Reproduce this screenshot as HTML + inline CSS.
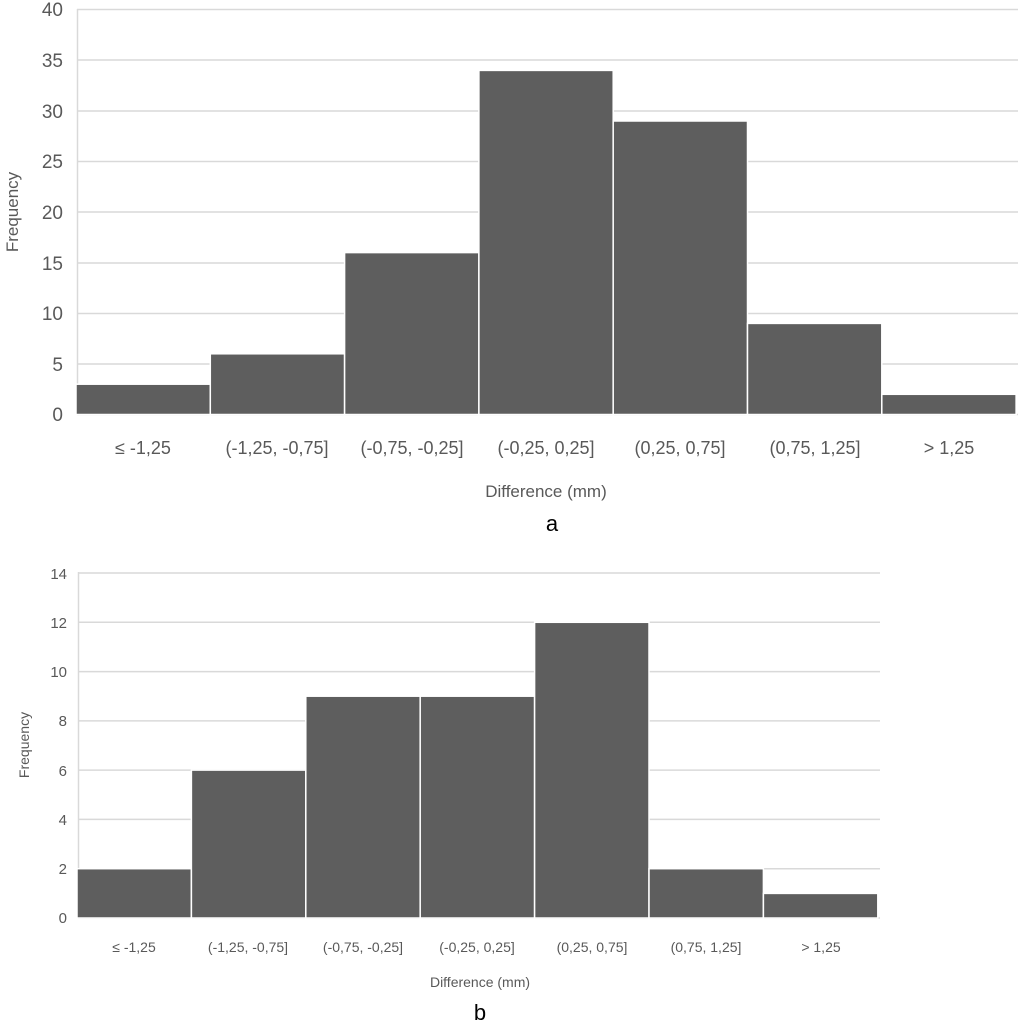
<!DOCTYPE html>
<html><head><meta charset="utf-8"><style>html,body{margin:0;padding:0;background:#fff}svg{display:block}text{font-family:"Liberation Sans",sans-serif;fill:#595959}</style></head>
<body>
<svg width="1024" height="1024" viewBox="0 0 1024 1024">
<g stroke="#d9d9d9" stroke-width="1.5">
<line x1="77" x2="1018" y1="9.5" y2="9.5"/><line x1="77" x2="1018" y1="60" y2="60"/><line x1="77" x2="1018" y1="111" y2="111"/><line x1="77" x2="1018" y1="161.5" y2="161.5"/><line x1="77" x2="1018" y1="212" y2="212"/><line x1="77" x2="1018" y1="263" y2="263"/><line x1="77" x2="1018" y1="313.5" y2="313.5"/><line x1="77" x2="1018" y1="364" y2="364"/><line x1="77" x2="1018" y1="414.5" y2="414.5"/><line x1="77.5" x2="77.5" y1="9" y2="415"/>
</g>
<g fill="#5e5e5e" stroke="#fff" stroke-width="1.5">
<rect x="76" y="384.2" width="134.3" height="30.3"/>
<rect x="210.3" y="353.8" width="134.3" height="60.7"/>
<rect x="344.6" y="252.6" width="134.3" height="161.9"/>
<rect x="478.9" y="70.4" width="134.3" height="344.1"/>
<rect x="613.2" y="121" width="134.3" height="293.5"/>
<rect x="747.5" y="323.4" width="134.3" height="91.1"/>
<rect x="881.8" y="394.3" width="134.3" height="20.2"/>
</g>
<g font-size="19" text-anchor="end">
<text x="63" y="16">40</text><text x="63" y="67">35</text><text x="63" y="118">30</text><text x="63" y="168">25</text><text x="63" y="219">20</text><text x="63" y="270">15</text><text x="63" y="320">10</text><text x="63" y="371">5</text><text x="63" y="421">0</text>
</g>
<text font-size="17" transform="translate(18,212) rotate(-90)" text-anchor="middle">Frequency</text>
<g font-size="18" text-anchor="middle">
<text x="143" y="454">≤ -1,25</text><text x="277" y="454">(-1,25, -0,75]</text><text x="412" y="454">(-0,75, -0,25]</text><text x="546" y="454">(-0,25, 0,25]</text><text x="680" y="454">(0,25, 0,75]</text><text x="815" y="454">(0,75, 1,25]</text><text x="949" y="454">&gt; 1,25</text>
</g>
<text x="546" y="497" font-size="17" text-anchor="middle">Difference (mm)</text>
<text x="552" y="531" font-size="22" text-anchor="middle" style="fill:#000">a</text>

<g stroke="#d9d9d9" stroke-width="1.5">
<line x1="78" x2="880" y1="573" y2="573"/><line x1="78" x2="880" y1="622.3" y2="622.3"/><line x1="78" x2="880" y1="671.6" y2="671.6"/><line x1="78" x2="880" y1="720.9" y2="720.9"/><line x1="78" x2="880" y1="770.1" y2="770.1"/><line x1="78" x2="880" y1="819.4" y2="819.4"/><line x1="78" x2="880" y1="868.7" y2="868.7"/><line x1="78" x2="880" y1="918" y2="918"/><line x1="78.5" x2="78.5" y1="572" y2="918"/>
</g>
<g fill="#5e5e5e" stroke="#fff" stroke-width="1.5">
<rect x="77" y="868.7" width="114.4" height="49.3"/>
<rect x="191.4" y="770.1" width="114.4" height="147.9"/>
<rect x="305.8" y="696.2" width="114.4" height="221.8"/>
<rect x="420.2" y="696.2" width="114.4" height="221.8"/>
<rect x="534.6" y="622.3" width="114.4" height="295.7"/>
<rect x="649" y="868.7" width="114.4" height="49.3"/>
<rect x="763.4" y="893.4" width="114.4" height="24.6"/>
</g>
<g font-size="15" text-anchor="end">
<text x="67" y="579">14</text><text x="67" y="628">12</text><text x="67" y="677">10</text><text x="67" y="726">8</text><text x="67" y="776">6</text><text x="67" y="825">4</text><text x="67" y="874">2</text><text x="67" y="923">0</text>
</g>
<text font-size="14" transform="translate(29,745) rotate(-90)" text-anchor="middle">Frequency</text>
<g font-size="14" text-anchor="middle">
<text x="134" y="952">≤ -1,25</text><text x="248" y="952">(-1,25, -0,75]</text><text x="363" y="952">(-0,75, -0,25]</text><text x="477" y="952">(-0,25, 0,25]</text><text x="592" y="952">(0,25, 0,75]</text><text x="706" y="952">(0,75, 1,25]</text><text x="821" y="952">&gt; 1,25</text>
</g>
<text x="480" y="987" font-size="14" text-anchor="middle">Difference (mm)</text>
<text x="480" y="1020" font-size="22" text-anchor="middle" style="fill:#000">b</text>
</svg>
</body></html>
